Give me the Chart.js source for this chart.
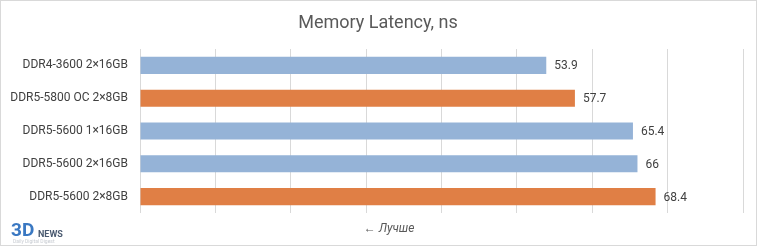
<!DOCTYPE html>
<html>
<head>
<meta charset="utf-8">
<script src="https://cdn.jsdelivr.net/npm/chart.js@4/dist/chart.umd.min.js"></script>
<style>
  html, body { margin: 0; padding: 0; background: #fff; }
  #wrap { position: relative; width: 755px; height: 244px; border: 1px solid #d9d9d9; }
</style>
</head>
<body>
<div id="wrap"><canvas id="latencyChart" width="755" height="244"></canvas></div>
<script>
const categories = ['DDR4-3600 2×16GB', 'DDR5-5800 OC 2×8GB', 'DDR5-5600 1×16GB', 'DDR5-5600 2×16GB', 'DDR5-5600 2×8GB'];
const latencyValues = [53.9, 57.7, 65.4, 66, 68.4];
const barColors = ['#95b3d7', '#e07f45', '#95b3d7', '#95b3d7', '#e07f45'];
const chartTitle = 'Memory Latency, ns';
const footNote = '← Лучше';

const FONT = 'Roboto, sans-serif';

const extrasPlugin = {
    id: 'extras',
    afterDatasetsDraw(chart) {
        const ctx = chart.ctx;
        const meta = chart.getDatasetMeta(0);
        ctx.save();
        ctx.font = '12px ' + FONT;
        ctx.fillStyle = '#404040';
        ctx.textBaseline = 'middle';
        ctx.textAlign = 'left';
        meta.data.forEach((bar, i) => {
            ctx.fillText(String(latencyValues[i]), bar.x + 8, bar.y + 1);
        });

        // title
        ctx.font = '18px ' + FONT;
        ctx.fillStyle = '#595959';
        ctx.textAlign = 'center';
        ctx.fillText(chartTitle, 377, 22);

        // footnote
        ctx.font = 'italic 12px ' + FONT;
        ctx.fillText(footNote, 388, 228);

        // logo
        ctx.textAlign = 'left';
        ctx.font = 'bold 19px ' + FONT;
        ctx.fillStyle = '#3a78c2';
        ctx.fillText('3D', 10, 230);
        ctx.font = 'bold 9px ' + FONT;
        ctx.fillStyle = '#4a5a70';
        ctx.fillText('NEWS', 37, 234);
        ctx.font = '5px ' + FONT;
        ctx.fillStyle = '#c8ccd2';
        ctx.fillText('Daily Digital Digest', 12, 241);
        ctx.restore();
    }
};

new Chart(document.getElementById('latencyChart'), {
    type: 'bar',
    data: {
        labels: categories,
        datasets: [{
            data: latencyValues,
            backgroundColor: barColors,
            categoryPercentage: 1,
            barPercentage: 0.52
        }]
    },
    options: {
        indexAxis: 'y',
        responsive: false,
        animation: false,
        layout: { padding: { top: 48, right: 13, left: 0, bottom: 0 } },
        plugins: {
            legend: { display: false },
            tooltip: { enabled: false }
        },
        scales: {
            x: {
                min: 0,
                max: 80,
                ticks: { stepSize: 10, display: false },
                grid: { color: '#d9d9d9', drawTicks: false },
                border: { display: false },
                afterFit(scale) { scale.height = 32; }
            },
            y: {
                grid: { display: false },
                border: { display: false },
                ticks: {
                    color: '#404040',
                    font: { family: FONT, size: 12 },
                    padding: 4
                },
                afterFit(scale) { scale.width = 139; }
            }
        }
    },
    plugins: [extrasPlugin]
});
</script>
</body>
</html>
